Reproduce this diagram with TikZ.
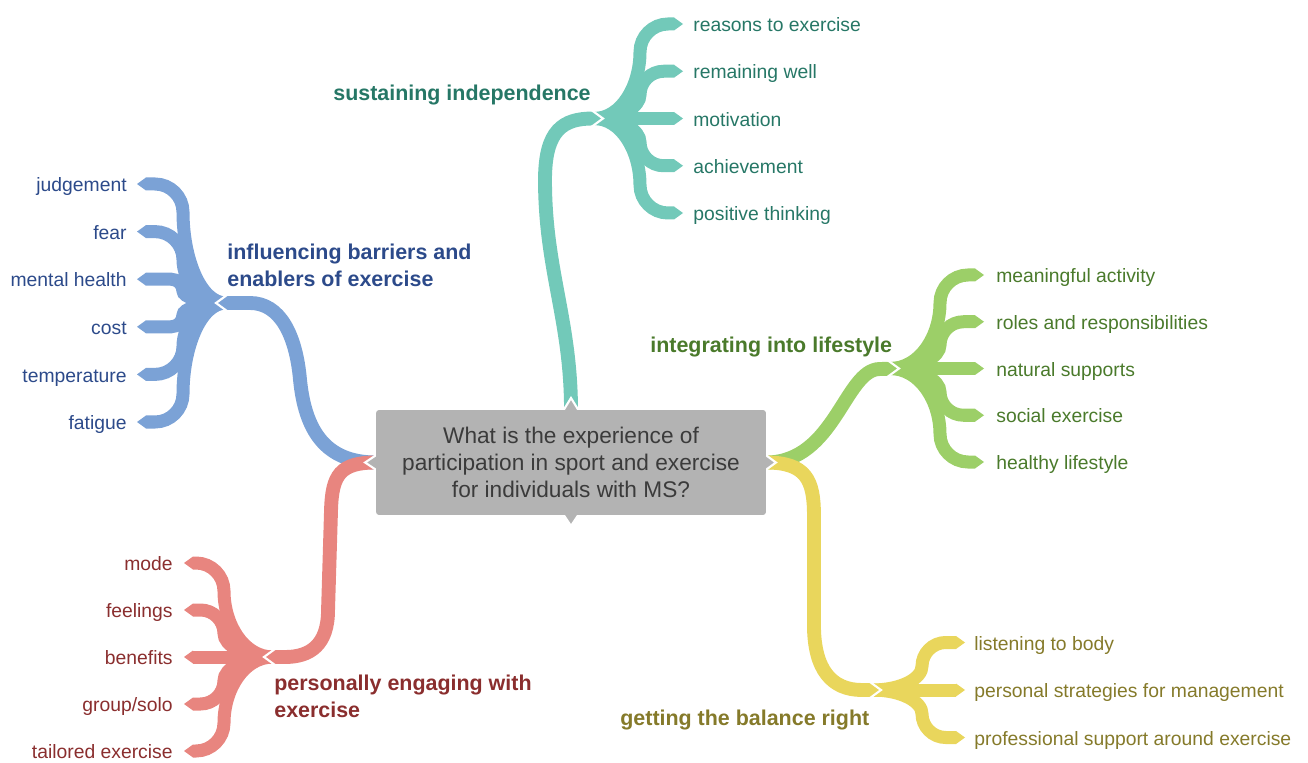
\documentclass[tikz,border=0pt]{standalone}
\usepackage{fontspec}
\setmainfont{Liberation Sans}
\usepackage{xcolor}
\usetikzlibrary{arrows.meta,positioning,backgrounds}
\definecolor{tealrib}{HTML}{72C9B9}
\definecolor{tealtxt}{HTML}{267766}
\definecolor{bluerib}{HTML}{7BA2D6}
\definecolor{bluetxt}{HTML}{2C4A8A}
\definecolor{greenrib}{HTML}{9CCF68}
\definecolor{greentxt}{HTML}{4A7A2B}
\definecolor{yellowrib}{HTML}{E9D65C}
\definecolor{yellowtxt}{HTML}{857A2A}
\definecolor{redrib}{HTML}{E8857F}
\definecolor{redtxt}{HTML}{8A2E2E}
\definecolor{boxgray}{HTML}{B3B3B3}
\definecolor{boxtxt}{HTML}{3B3B3B}

% bends of a twig: #1 rise to the leaf, #2 run from hub to spine, #3 side (1 right, -1 left)
\newcommand\twigbends[3]{%
  \pgfmathsetmacro\twdy{#1}%
  \pgfmathsetmacro\twsg{(\twdy)/max(abs(\twdy),0.001)}%
  \pgfmathsetmacro\twr{min(abs(\twdy)/2,28)}%
  \pgfmathsetmacro\twka{(#3)*0.6*(#2)}%
  \pgfmathsetmacro\twqx{(#3)*(#2)}%
  \pgfmathsetmacro\twqy{(\twdy)-(\twsg)*(\twr)}%
  \pgfmathsetmacro\twkb{(-1)*(\twsg)*0.5*abs(\twqy)}%
  \pgfmathsetmacro\twca{(\twsg)*0.55*(\twr)}%
  \pgfmathsetmacro\twcb{(-1)*(#3)*0.55*(\twr)}%
  \pgfmathsetmacro\twex{(#3)*(\twr)}%
  \pgfmathsetmacro\twey{(\twsg)*(\twr)}}

\begin{document}
\begin{tikzpicture}[x=0.02cm,y=-0.02cm,
  trunk/.style={line width=7.9pt,-{Triangle[line width=0pt,length=0.2cm,width=0.28cm]}},
  twig/.style={line width=7.4pt,-{Triangle[line width=0pt,length=0.18cm,width=0.26cm]}},
  notch/.style={white,line width=1.2pt},
  pointer/.style={fill=boxgray,draw=white,line width=1.2pt},
  leaf/.style={inner sep=0pt,yshift=-0.06cm,font=\fontsize{11}{13}\selectfont},
  topic/.style={inner sep=0pt,yshift=-0.06cm,align=left,font=\bfseries\fontsize{12.2}{15.3}\selectfont},
  rootbox/.style={fill=boxgray,text=boxtxt,rounded corners=0.06cm,minimum width=7.8cm,minimum height=2.1cm,inner sep=0pt,outer sep=0pt,align=center,font=\fontsize{12.9}{15.3}\selectfont}]

\useasboundingbox (0,0) rectangle (1308,763);

\node[rootbox] (root) at (571,462.5) {What is the experience of\\participation in sport and exercise\\for individuals with MS?};

% hubs where the twigs start
\coordinate (tealhub) at (594,118.5);   \coordinate (tealtip) at (603,118.5);
\coordinate (bluehub) at (226,303);     \coordinate (bluetip) at (216,303);
\coordinate (greenhub) at (890,368.5);  \coordinate (greentip) at (899,368.5);
\coordinate (yellowhub) at (872,690);   \coordinate (yellowtip) at (881,690);
\coordinate (redhub) at (273,657);      \coordinate (redtip) at (264,657);

\def\tealleaves{reasons to exercise, remaining well, motivation, achievement, positive thinking}
\def\blueleaves{judgement, fear, mental health, cost, temperature, fatigue}
\def\greenleaves{meaningful activity, roles and responsibilities, natural supports, social exercise, healthy lifestyle}
\def\yellowleaves{listening to body, personal strategies for management, professional support around exercise}
\def\redleaves{mode, feelings, benefits, group/solo, tailored exercise}

\begin{scope}[on background layer]

% draw the twigs and their labels
\foreach \txt [count=\i] in \tealleaves
{
\pgfmathsetmacro\ly{24+(\i-1)*47.25}
\twigbends{\ly-118.5}{46}{1}
\coordinate (teal\i) at (683,\ly);
\draw[twig,tealrib] (tealhub) .. controls +(\twka,0) and +(0,\twkb) .. ++(\twqx,\twqy) .. controls +(0,\twca) and +(\twcb,0) .. ++(\twex,\twey) -- (teal\i);
\node[leaf,text=tealtxt,right=0.2cm of teal\i,anchor=mid west] (tealleaf\i) {\txt};
}

\foreach \txt [count=\i] in \blueleaves
{
\pgfmathsetmacro\ly{184+(\i-1)*47.6}
\twigbends{\ly-303}{43}{-1}
\coordinate (blue\i) at (137,\ly);
\draw[twig,bluerib] (bluehub) .. controls +(\twka,0) and +(0,\twkb) .. ++(\twqx,\twqy) .. controls +(0,\twca) and +(\twcb,0) .. ++(\twex,\twey) -- (blue\i);
\node[leaf,text=bluetxt,left=0.2cm of blue\i,anchor=mid east] (blueleaf\i) {\txt};
}

\foreach \txt [count=\i] in \greenleaves
{
\pgfmathsetmacro\ly{275+(\i-1)*46.75}
\twigbends{\ly-368.5}{50}{1}
\coordinate (green\i) at (984,\ly);
\draw[twig,greenrib] (greenhub) .. controls +(\twka,0) and +(0,\twkb) .. ++(\twqx,\twqy) .. controls +(0,\twca) and +(\twcb,0) .. ++(\twex,\twey) -- (green\i);
\node[leaf,text=greentxt,right=0.24cm of green\i,anchor=mid west] (greenleaf\i) {\txt};
}

\foreach \txt [count=\i] in \yellowleaves
{
\pgfmathsetmacro\ly{642.5+(\i-1)*47.5}
\twigbends{\ly-690}{50}{1}
\coordinate (yellow\i) at (965,\ly);
\draw[twig,yellowrib] (yellowhub) .. controls +(\twka,0) and +(0,\twkb) .. ++(\twqx,\twqy) .. controls +(0,\twca) and +(\twcb,0) .. ++(\twex,\twey) -- (yellow\i);
\node[leaf,text=yellowtxt,right=0.18cm of yellow\i,anchor=mid west] (yellowleaf\i) {\txt};
}

\foreach \txt [count=\i] in \redleaves
{
\pgfmathsetmacro\ly{563+(\i-1)*47}
\twigbends{\ly-657}{49}{-1}
\coordinate (red\i) at (184,\ly);
\draw[twig,redrib] (redhub) .. controls +(\twka,0) and +(0,\twkb) .. ++(\twqx,\twqy) .. controls +(0,\twca) and +(\twcb,0) .. ++(\twex,\twey) -- (red\i);
\node[leaf,text=redtxt,left=0.22cm of red\i,anchor=mid east] (redleaf\i) {\txt};
}

% draw the trunks from the question to the hubs
\draw[trunk,tealrib] (root.north) .. controls +(0,-90) and +(0,90) .. ++(-26,-230) .. controls +(0,-50) and +(-40,0) .. (tealtip);
\draw[trunk,bluerib] (root.west) .. controls +(-51,0) and +(5,50) .. ++(-76,-82.5) .. controls +(-4,-45) and +(30,0) .. ++(-50,-77) -- (bluetip);
\draw[trunk,redrib] (root.west) .. controls +(-36,0) and +(1,-35) .. ++(-45,47.5) -- ++(-3,100) .. controls +(0,35) and +(25,0) .. ++(-43,47) -- (redtip);
\draw[trunk,greenrib] (root.east) .. controls +(69,0) and +(-35,0) .. ++(114,-93.5) -- (greentip);
\draw[trunk,yellowrib] (root.east) .. controls +(40,0) and +(0,-35) .. ++(48,52.5) -- ++(0,110) .. controls +(0,45) and +(-30,0) .. ++(48,65) -- (yellowtip);

% white cuts between trunk and hub
\foreach \t/\s in {tealtip/-1,greentip/-1,yellowtip/-1,bluetip/1,redtip/1}
\draw[notch] ([shift={(11*\s,-8)}]\t) -- (\t) -- ([shift={(11*\s,8)}]\t);

% pointers of the question box
\draw[pointer] ([shift={(-8,1)}]root.north) -- ([shift={(0,-12)}]root.north) -- ([shift={(8,1)}]root.north);
\draw[pointer] ([shift={(-8,-1)}]root.south) -- ([shift={(0,11)}]root.south) -- ([shift={(8,-1)}]root.south);
\draw[pointer] ([shift={(1,-8)}]root.west) -- ([shift={(-11,0)}]root.west) -- ([shift={(1,8)}]root.west);
\draw[pointer] ([shift={(-1,-8)}]root.east) -- ([shift={(10,0)}]root.east) -- ([shift={(-1,8)}]root.east);

\end{scope}

% the five themes
\node[topic,text=tealtxt,anchor=mid west] (tealtopic) at (333,93) {sustaining independence};
\node[topic,text=bluetxt,anchor=mid west] (bluetopic) at (227,278.5) {influencing barriers and\\enablers of exercise};
\node[topic,text=greentxt,anchor=mid west] (greentopic) at (650,345) {integrating into lifestyle};
\node[topic,text=yellowtxt,anchor=mid west] (yellowtopic) at (620,718) {getting the balance right};
\node[topic,text=redtxt,anchor=mid west] (redtopic) at (274,710) {personally engaging with\\exercise};

\end{tikzpicture}
\end{document}
